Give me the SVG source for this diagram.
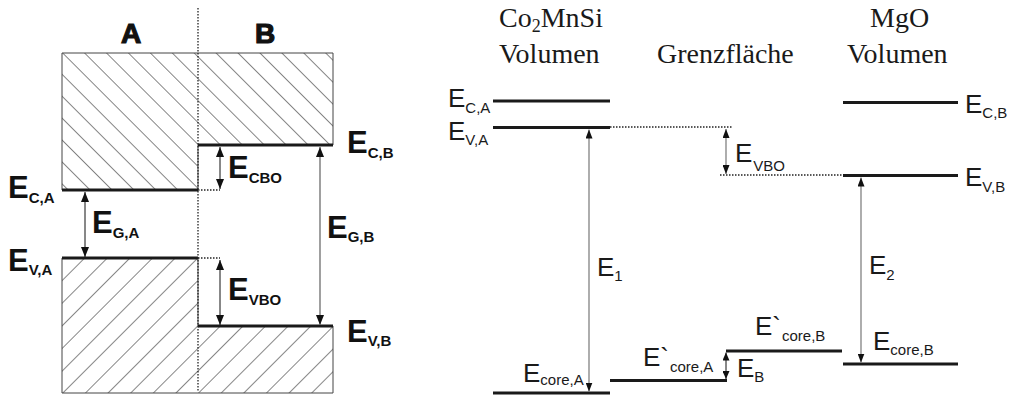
<svg xmlns="http://www.w3.org/2000/svg" width="1009" height="399" viewBox="0 0 1009 399">
<defs>
<style>
.bg{fill:#fff}
.lvl{stroke:#1a1a1a;stroke-width:3;fill:none}
.dot{stroke:#222;stroke-width:1.3;stroke-dasharray:1.5 1.5;fill:none}
.edge{stroke:#444;stroke-width:1;}
.arr{stroke:#111;stroke-width:1;fill:none;marker-start:url(#ah);marker-end:url(#ah)}
.arrg{stroke:#777;stroke-width:1.4;fill:none;marker-start:url(#ah);marker-end:url(#ah)}
.arrs{stroke:#777;stroke-width:1.2;fill:none;marker-start:url(#ah2);marker-end:url(#ah2)}
.arrb{stroke:#111;stroke-width:1;fill:none;marker-start:url(#ah3);marker-end:url(#ah3)}
.bl{font-family:"Liberation Sans",Arial,sans-serif;font-weight:bold;font-size:31px;fill:#111}
.bls{font-size:15px}
.hd{font-family:"Liberation Sans",Arial,sans-serif;font-weight:bold;font-size:28px;fill:#111;stroke:#111;stroke-width:1.2;text-anchor:middle}
.sn{font-family:"Liberation Sans",Arial,sans-serif;font-size:26px;fill:#1a1a1a}
.ss{font-size:15px}
.tm{font-family:"Liberation Serif","Times New Roman",serif;font-size:28px;fill:#1a1a1a}
</style>
<pattern id="hatchTop" patternUnits="userSpaceOnUse" width="15.5" height="15.5" patternTransform="translate(62,53) rotate(-45)">
<line x1="0" y1="-2" x2="0" y2="18" stroke="#222" stroke-width="1.1"/>
</pattern>
<pattern id="hatchBot" patternUnits="userSpaceOnUse" width="16" height="16" patternTransform="translate(84,258) rotate(45)">
<line x1="0" y1="-2" x2="0" y2="18" stroke="#222" stroke-width="1.1"/>
</pattern>
<marker id="ah" viewBox="0 0 10 8" refX="10" refY="4" markerWidth="10" markerHeight="8" markerUnits="userSpaceOnUse" orient="auto-start-reverse">
<path d="M0,0 L10,4 L0,8 z" fill="#111"/>
</marker>
<marker id="ah2" viewBox="0 0 9 7" refX="9" refY="3.5" markerWidth="9" markerHeight="7" markerUnits="userSpaceOnUse" orient="auto-start-reverse">
<path d="M0,0 L9,3.5 L0,7 z" fill="#111"/>
</marker>
<marker id="ah3" viewBox="0 0 8 7" refX="8" refY="3.5" markerWidth="8" markerHeight="7" markerUnits="userSpaceOnUse" orient="auto-start-reverse">
<path d="M0,0 L8,3.5 L0,7 z" fill="#111"/>
</marker>
</defs>
<rect class="bg" x="0" y="0" width="1009" height="399"/>

<!-- LEFT PANEL -->
<g id="conductionBlock">
<path d="M62,53 H333 V145 H198 V190 H62 Z" fill="url(#hatchTop)" class="edge"/>
<line class="lvl" x1="62" y1="190" x2="198" y2="190"/>
<line class="lvl" x1="198" y1="145" x2="333" y2="145"/>
</g>
<g id="valenceBlock">
<path d="M62,258 H198 V326 H333 V393 H62 Z" fill="url(#hatchBot)" class="edge"/>
<line class="lvl" x1="62" y1="258" x2="198" y2="258"/>
<line class="lvl" x1="198" y1="326" x2="333" y2="326"/>
</g>
<g id="interface">
<line class="dot" x1="198" y1="8" x2="198" y2="392"/>
<line class="dot" x1="198" y1="190" x2="220" y2="190"/>
<line class="dot" x1="198" y1="258" x2="220" y2="258"/>
</g>
<g id="leftLabels">
<text class="hd" x="131" y="43">A</text>
<text class="hd" x="265" y="43">B</text>
<text class="bl" x="8" y="198">E<tspan class="bls" dy="5">C,A</tspan></text>
<text class="bl" x="8" y="271">E<tspan class="bls" dy="4">V,A</tspan></text>
<text class="bl" x="92" y="233">E<tspan class="bls" dy="5">G,A</tspan></text>
<text class="bl" x="228" y="178">E<tspan class="bls" dy="5">CBO</tspan></text>
<text class="bl" x="228" y="300">E<tspan class="bls" dy="5">VBO</tspan></text>
<text class="bl" x="347" y="153">E<tspan class="bls" dy="5">C,B</tspan></text>
<text class="bl" x="327" y="238">E<tspan class="bls" dy="4">G,B</tspan></text>
<text class="bl" x="347" y="342">E<tspan class="bls" dy="4">V,B</tspan></text>
</g>

<!-- RIGHT PANEL -->
<g id="headers">
<text class="tm" x="499" y="27">Co<tspan font-size="18" dy="5">2</tspan><tspan dy="-5">MnSi</tspan></text>
<text class="tm" x="499" y="63">Volumen</text>
<text class="tm" x="657" y="63">Grenzfläche</text>
<text class="tm" x="870" y="27">MgO</text>
<text class="tm" x="847" y="63">Volumen</text>
</g>
<g id="ECA">
<line class="lvl" x1="493" y1="101" x2="610" y2="101"/>
<text class="sn" x="448" y="107" font-size="24">E<tspan class="ss" dy="6">C,A</tspan></text>
</g>
<g id="EVA">
<line class="lvl" x1="493" y1="127.5" x2="610" y2="127.5"/>
<text class="sn" x="448" y="140" font-size="24">E<tspan class="ss" dy="5">V,A</tspan></text>
</g>
<g id="ECB">
<line class="lvl" x1="843" y1="102.5" x2="958" y2="102.5"/>
<text class="sn" x="965" y="113" font-size="27">E<tspan class="ss" dy="5">C,B</tspan></text>
</g>
<g id="EVB">
<line class="lvl" x1="843" y1="175.5" x2="958" y2="175.5"/>
<text class="sn" x="965" y="186" font-size="27">E<tspan class="ss" dy="6">V,B</tspan></text>
</g>
<g id="EcoreA">
<line class="lvl" x1="493" y1="393" x2="610" y2="393"/>
<text class="sn" x="523" y="382">E<tspan class="ss" dy="3">core,A</tspan></text>
</g>
<g id="EpcoreA">
<line class="lvl" x1="610" y1="380.5" x2="727" y2="380.5"/>
<text class="sn" x="643" y="366">E`<tspan class="ss" dx="1" dy="6">core,A</tspan></text>
</g>
<g id="EpcoreB">
<line class="lvl" x1="726" y1="351" x2="842" y2="351"/>
<text class="sn" x="755" y="335">E`<tspan class="ss" dx="1" dy="6">core,B</tspan></text>
</g>
<g id="EcoreB">
<line class="lvl" x1="843" y1="364" x2="958" y2="364"/>
<text class="sn" x="873" y="350">E<tspan class="ss" dy="5">core,B</tspan></text>
</g>

<g id="connectors">
<line class="arr" x1="220" y1="147" x2="220" y2="189"/>
<line class="arr" x1="85" y1="192" x2="85" y2="257"/>
<line class="arr" x1="220" y1="260" x2="220" y2="325"/>
<line class="arrg" x1="320" y1="147" x2="320" y2="325"/>
<line class="dot" x1="610" y1="127" x2="733" y2="127"/>
<line class="dot" x1="720" y1="175" x2="843" y2="175"/>
<line class="arrs" x1="726" y1="129" x2="726" y2="174"/>
<line class="arrs" x1="589" y1="129.5" x2="589" y2="391.5"/>
<line class="arrs" x1="861" y1="177.5" x2="861" y2="362.5"/>
<line class="arrb" x1="726" y1="352.5" x2="726" y2="379"/>
</g>
<g id="connectorLabels">
<text class="sn" x="735" y="162" font-size="29">E<tspan class="ss" dx="1" dy="9">VBO</tspan></text>
<text class="sn" x="597" y="276">E<tspan class="ss" dy="5">1</tspan></text>
<text class="sn" x="869" y="274">E<tspan class="ss" dy="6">2</tspan></text>
<text class="sn" x="737" y="377" font-size="24">E<tspan class="ss" dy="5">B</tspan></text>
</g>
</svg>
